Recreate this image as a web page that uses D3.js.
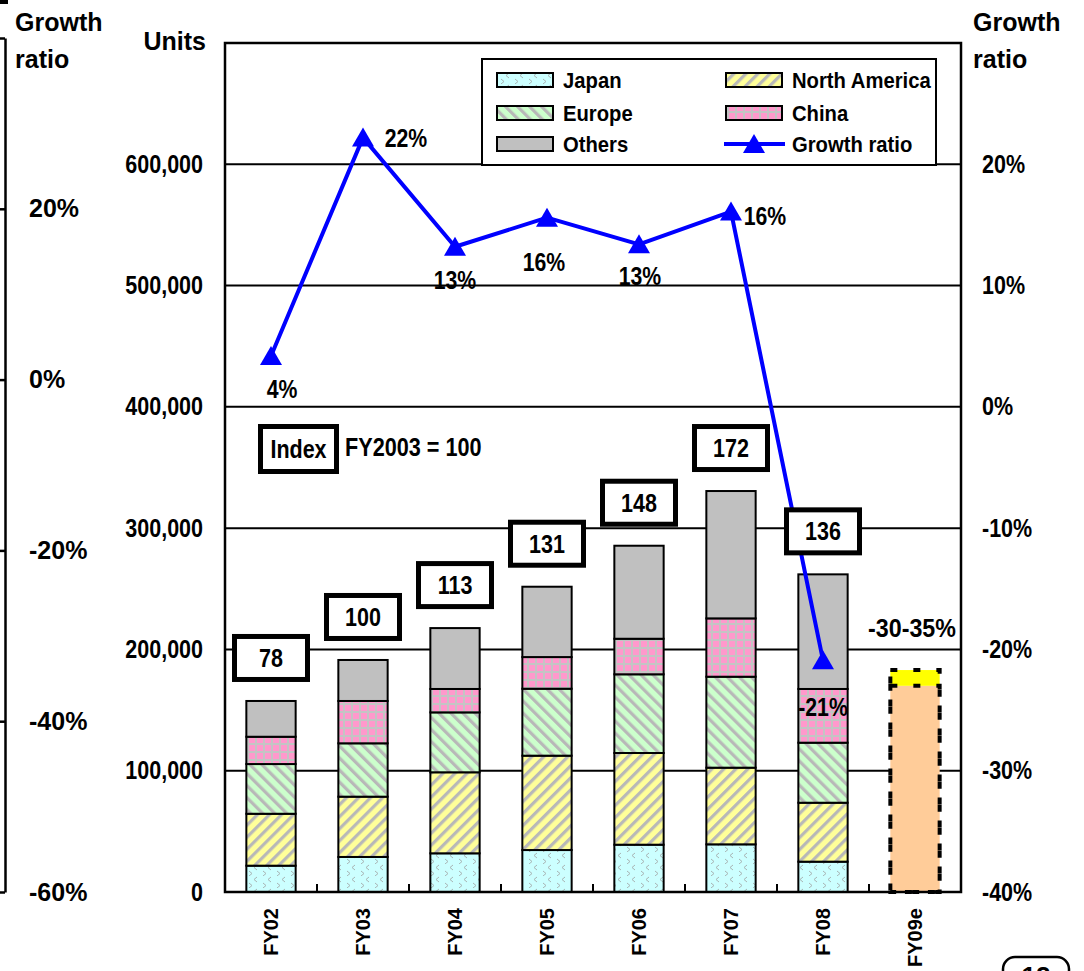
<!DOCTYPE html>
<html>
<head>
<meta charset="utf-8">
<script src="https://cdn.jsdelivr.net/npm/d3@7"></script>
<style>
  html, body { margin: 0; padding: 0; background: #fff; }
  svg { display: block; font-family: "Liberation Sans", Arial, sans-serif; font-weight: bold; }
</style>
</head>
<body>
<svg id="chart" width="1084" height="971"></svg>
<script>
// ---- data -------------------------------------------------------------
const categories = ["FY02", "FY03", "FY04", "FY05", "FY06", "FY07", "FY08", "FY09e"];
const actualYears = ["FY02", "FY03", "FY04", "FY05", "FY06", "FY07", "FY08"];
const regions = ["Japan", "North America", "Europe", "China", "Others"];

const japan        = [21700, 28900, 31900, 34600, 39000, 39300, 25000];
const northAmerica = [42800, 49700, 66800, 77800, 75600, 63200, 48600];
const europe       = [41000, 44000, 49400, 55200, 64900, 75000, 49500];
const china        = [22500, 34900, 19300, 26100, 29300, 48100, 44300];
const others       = [29500, 33800, 50200, 58000, 76700, 105000, 94500];

const growthRatio  = [0.042, 0.222, 0.132, 0.156, 0.134, 0.161, -0.209];
const indexValues  = [78, 100, 113, 131, 148, 172, 136];

const forecastLow  = 170000;
const forecastHigh = 183000;
const forecastLabel = "-30-35%";

const unitTicks       = [0, 100000, 200000, 300000, 400000, 500000, 600000];
const ratioTicksRight = [-0.4, -0.3, -0.2, -0.1, 0, 0.1, 0.2];
const ratioTicksLeft  = [-0.6, -0.4, -0.2, 0, 0.2, 0.4];

// ---- layout -----------------------------------------------------------
const W = 1084, H = 971;
const plot = { left: 225, right: 961, top: 43, bottom: 892 };
// offsets of each growth label from its marker [dx, dy]
const growthLabelShift = [[11, 33], [43, 0], [0, 33], [-3, 44], [1, 32], [34, 4], [0, 47]];

const svg = d3.select("#chart");
svg.append("rect").attr("width", W).attr("height", H).attr("fill", "#fff");

const pct = d => Math.round(d * 100) + "%";
function squeeze(sel, k) {
  sel.each(function () {
    const w = this.getComputedTextLength();
    d3.select(this).attr("textLength", w * k).attr("lengthAdjust", "spacingAndGlyphs");
  });
  return sel;
}

// ---- scales -----------------------------------------------------------
const x = d3.scaleBand().domain(categories).range([plot.left, plot.right])
  .paddingInner(0.464).paddingOuter(0.232);
const bw = x.bandwidth();
const y = d3.scaleLinear().domain([0, 700000]).range([plot.bottom, plot.top]);
const yR = d3.scaleLinear().domain([-0.4, 0.3]).range([plot.bottom, plot.top]);
const yL = d3.scaleLinear().domain([-0.6, 0.4]).range([plot.bottom, 38]);

// ---- fill patterns ----------------------------------------------------
const defs = svg.append("defs");
function stripes(id, bg, angle) {
  const p = defs.append("pattern").attr("id", id).attr("patternUnits", "userSpaceOnUse")
    .attr("width", 8.5).attr("height", 8.5).attr("patternTransform", `rotate(${angle})`);
  p.append("rect").attr("width", 8.5).attr("height", 8.5).attr("fill", bg);
  p.append("rect").attr("width", 3.2).attr("height", 8.5).attr("fill", "#b8b8b8");
}
stripes("pat-na", "#ffff99", 45);
stripes("pat-eu", "#ccffcc", -45);

const pj = defs.append("pattern").attr("id", "pat-jp").attr("patternUnits", "userSpaceOnUse")
  .attr("width", 14).attr("height", 12);
pj.append("rect").attr("width", 14).attr("height", 12).attr("fill", "#ccffff");
pj.append("path").attr("d", "M5,1L2,3.5L5,6M11,7L14,9.5L11,12")
  .attr("fill", "none").attr("stroke", "#a8b4b4").attr("stroke-width", 1);

const pc = defs.append("pattern").attr("id", "pat-cn").attr("patternUnits", "userSpaceOnUse")
  .attr("width", 8).attr("height", 8);
pc.append("rect").attr("width", 8).attr("height", 8).attr("fill", "#c4c4c4");
pc.append("rect").attr("x", 1).attr("y", 1).attr("width", 6).attr("height", 6).attr("fill", "#ff99cc");

const regionFill = {
  "Japan": "url(#pat-jp)",
  "North America": "url(#pat-na)",
  "Europe": "url(#pat-eu)",
  "China": "url(#pat-cn)",
  "Others": "#c0c0c0"
};

// ---- gridlines --------------------------------------------------------
svg.append("g").selectAll("line").data(unitTicks.filter(d => d > 0)).join("line")
  .attr("x1", plot.left).attr("x2", plot.right)
  .attr("y1", d => y(d)).attr("y2", d => y(d))
  .attr("stroke", "#000").attr("stroke-width", 2);

// ---- stacked bars -----------------------------------------------------
const rows = actualYears.map((c, i) => ({
  cat: c,
  "Japan": japan[i], "North America": northAmerica[i], "Europe": europe[i],
  "China": china[i], "Others": others[i]
}));
const series = d3.stack().keys(regions)(rows);

svg.append("g").selectAll("g").data(series).join("g")
  .attr("fill", d => regionFill[d.key])
  .selectAll("rect").data(d => d).join("rect")
  .attr("x", d => x(d.data.cat)).attr("width", bw)
  .attr("y", d => y(d[1])).attr("height", d => y(d[0]) - y(d[1]))
  .attr("stroke", "#000").attr("stroke-width", 2);

// forecast bar
const fx = x("FY09e");
const fc = svg.append("g");
fc.append("rect").attr("x", fx).attr("width", bw)
  .attr("y", y(forecastLow)).attr("height", y(0) - y(forecastLow)).attr("fill", "#ffcc99");
fc.append("rect").attr("x", fx).attr("width", bw)
  .attr("y", y(forecastHigh)).attr("height", y(forecastLow) - y(forecastHigh)).attr("fill", "#ffff00");
fc.selectAll("rect.outline").data([[0, forecastHigh], [0, forecastLow]]).join("rect")
  .attr("class", "outline")
  .attr("x", fx).attr("width", bw)
  .attr("y", d => y(d[1])).attr("height", d => y(d[0]) - y(d[1]))
  .attr("fill", "none").attr("stroke", "#000").attr("stroke-width", 4)
  .attr("stroke-dasharray", "7,16");

// ---- x axis -----------------------------------------------------------
const step = x.step();
svg.append("g").selectAll("line").data(categories.slice(1)).join("line")
  .attr("x1", d => x(d) - (step - bw) / 2).attr("x2", d => x(d) - (step - bw) / 2)
  .attr("y1", plot.bottom).attr("y2", plot.bottom - 8)
  .attr("stroke", "#000").attr("stroke-width", 2);

svg.append("g").selectAll("text").data(categories).join("text")
  .attr("transform", d => `translate(${x(d) + bw / 2 + 7},${plot.bottom + 16}) rotate(-90)`)
  .attr("text-anchor", "end").attr("font-size", 20).text(d => d);

// plot frame
svg.append("rect").attr("x", plot.left).attr("y", plot.top)
  .attr("width", plot.right - plot.left).attr("height", plot.bottom - plot.top)
  .attr("fill", "none").attr("stroke", "#000").attr("stroke-width", 2.5);

// ---- y axes -----------------------------------------------------------
const axU = svg.append("g").attr("transform", `translate(${plot.left},0)`)
  .call(d3.axisLeft(y).tickValues(unitTicks).tickFormat(d3.format(",")).tickSize(0).tickPadding(22));
axU.select(".domain").remove();
axU.selectAll("text").attr("font-size", 25).attr("font-family", null).attr("fill", "#000")
  .call(squeeze, 0.86);

const axR = svg.append("g").attr("transform", `translate(${plot.right},0)`)
  .call(d3.axisRight(yR).tickValues(ratioTicksRight).tickFormat(pct).tickSize(0).tickPadding(21));
axR.select(".domain").remove();
axR.selectAll("text").attr("font-size", 25).attr("font-family", null).attr("fill", "#000")
  .call(squeeze, 0.86);

const axL = svg.append("g").attr("transform", "translate(5,0)")
  .call(d3.axisLeft(yL).tickValues(ratioTicksLeft).tickSize(5).tickSizeOuter(0)
    .tickFormat(d => (d > 0.3 ? "" : pct(d))));
axL.select(".domain").attr("stroke-width", 2.5);
axL.selectAll(".tick line").attr("stroke-width", 2.5);
axL.selectAll("text").attr("x", 24).attr("text-anchor", "start")
  .attr("font-size", 25).attr("font-family", null).attr("fill", "#000");

// axis titles
const title = (tx, ty, lines, anchor) => {
  const t = svg.append("text").attr("x", tx).attr("y", ty).attr("font-size", 25)
    .attr("text-anchor", anchor || "start");
  lines.forEach((s, i) => t.append("tspan").attr("x", tx).attr("dy", i ? 37 : 0).text(s));
};
title(15, 31, ["Growth", "ratio"]);
title(973, 31, ["Growth", "ratio"]);
title(206, 50, ["Units"], "end");

// ---- growth ratio line ------------------------------------------------
const pts = actualYears.map((c, i) => [x(c) + bw / 2, yR(growthRatio[i])]);
svg.append("path").datum(pts)
  .attr("d", d3.line())
  .attr("fill", "none").attr("stroke", "#0000ff").attr("stroke-width", 4)
  .attr("stroke-linejoin", "round");
const tri = (cx, cy) => `M${cx},${cy - 10}L${cx + 11},${cy + 9}L${cx - 11},${cy + 9}Z`;
svg.append("g").selectAll("path").data(pts).join("path")
  .attr("d", d => tri(d[0], d[1])).attr("fill", "#0000ff");

// ---- index boxes ------------------------------------------------------
const totals = actualYears.map((c, i) => japan[i] + northAmerica[i] + europe[i] + china[i] + others[i]);
const boxW = 78, boxH = 48, gap = 19;
const boxes = svg.append("g").selectAll("g").data(actualYears).join("g")
  .attr("transform", (c, i) => `translate(${x(c) + bw / 2},${y(totals[i]) - gap - boxH / 2})`);
boxes.append("rect").attr("x", -boxW / 2 + 2.5).attr("y", -boxH / 2 + 2.5)
  .attr("width", boxW - 5).attr("height", boxH - 5)
  .attr("fill", "#fff").attr("stroke", "#000").attr("stroke-width", 5);
boxes.append("text").attr("text-anchor", "middle").attr("dy", "0.36em")
  .attr("font-size", 25).text((c, i) => indexValues[i]).call(squeeze, 0.86);

// index caption
const cap = svg.append("g");
cap.append("rect").attr("x", 260.5).attr("y", 426.5).attr("width", 76).attr("height", 45)
  .attr("fill", "#fff").attr("stroke", "#000").attr("stroke-width", 5);
cap.append("text").attr("x", 298.5).attr("y", 449).attr("dy", "0.36em").attr("text-anchor", "middle")
  .attr("font-size", 25).text("Index").call(squeeze, 0.86);
cap.append("text").attr("x", 345).attr("y", 447).attr("dy", "0.36em")
  .attr("font-size", 25).text("FY2003 = 100").call(squeeze, 0.865);

// ---- growth labels ----------------------------------------------------
svg.append("g").selectAll("text").data(pts).join("text")
  .attr("x", (d, i) => d[0] + growthLabelShift[i][0])
  .attr("y", (d, i) => d[1] + growthLabelShift[i][1])
  .attr("dy", "0.36em").attr("text-anchor", "middle").attr("font-size", 25)
  .text((d, i) => pct(growthRatio[i])).call(squeeze, 0.85);

// forecast label
svg.append("text").attr("x", fx + bw / 2 - 3).attr("y", y(forecastHigh) - 42)
  .attr("dy", "0.36em").attr("text-anchor", "middle").attr("font-size", 25)
  .text(forecastLabel).call(squeeze, 0.93);

// ---- legend -----------------------------------------------------------
const lg = svg.append("g");
lg.append("rect").attr("x", 482).attr("y", 59).attr("width", 454).attr("height", 106)
  .attr("fill", "#fff").attr("stroke", "#000").attr("stroke-width", 2);
const legendItems = [
  { key: "Japan", col: 0, row: 0 }, { key: "North America", col: 1, row: 0 },
  { key: "Europe", col: 0, row: 1 }, { key: "China", col: 1, row: 1 },
  { key: "Others", col: 0, row: 2 }, { key: "Growth ratio", col: 1, row: 2 }
];
const colX = [497, 726], rowY = [80, 113, 144];
legendItems.forEach(it => {
  const sx = colX[it.col], sy = rowY[it.row];
  if (it.key === "Growth ratio") {
    lg.append("line").attr("x1", sx - 2).attr("x2", sx + 59).attr("y1", sy).attr("y2", sy)
      .attr("stroke", "#0000ff").attr("stroke-width", 4);
    lg.append("path").attr("d", tri(sx + 28, sy)).attr("fill", "#0000ff");
  } else {
    lg.append("rect").attr("x", sx).attr("y", sy - 7).attr("width", 56).attr("height", 14)
      .attr("fill", regionFill[it.key]).attr("stroke", "#000").attr("stroke-width", 2);
  }
  lg.append("text").attr("x", sx + 66).attr("y", sy).attr("dy", "0.36em")
    .attr("font-size", 22).text(it.key).call(squeeze, 0.92);
});

// ---- page furniture ---------------------------------------------------
svg.append("rect").attr("x", 0).attr("y", 0).attr("width", 8).attr("height", 4).attr("fill", "#000");
svg.append("rect").attr("x", 1003).attr("y", 957).attr("width", 66).attr("height", 44).attr("rx", 12)
  .attr("fill", "#fff").attr("stroke", "#000").attr("stroke-width", 2.5);
svg.append("text").attr("x", 1036).attr("y", 985).attr("text-anchor", "middle")
  .attr("font-size", 26).text("12");
</script>
</body>
</html>
